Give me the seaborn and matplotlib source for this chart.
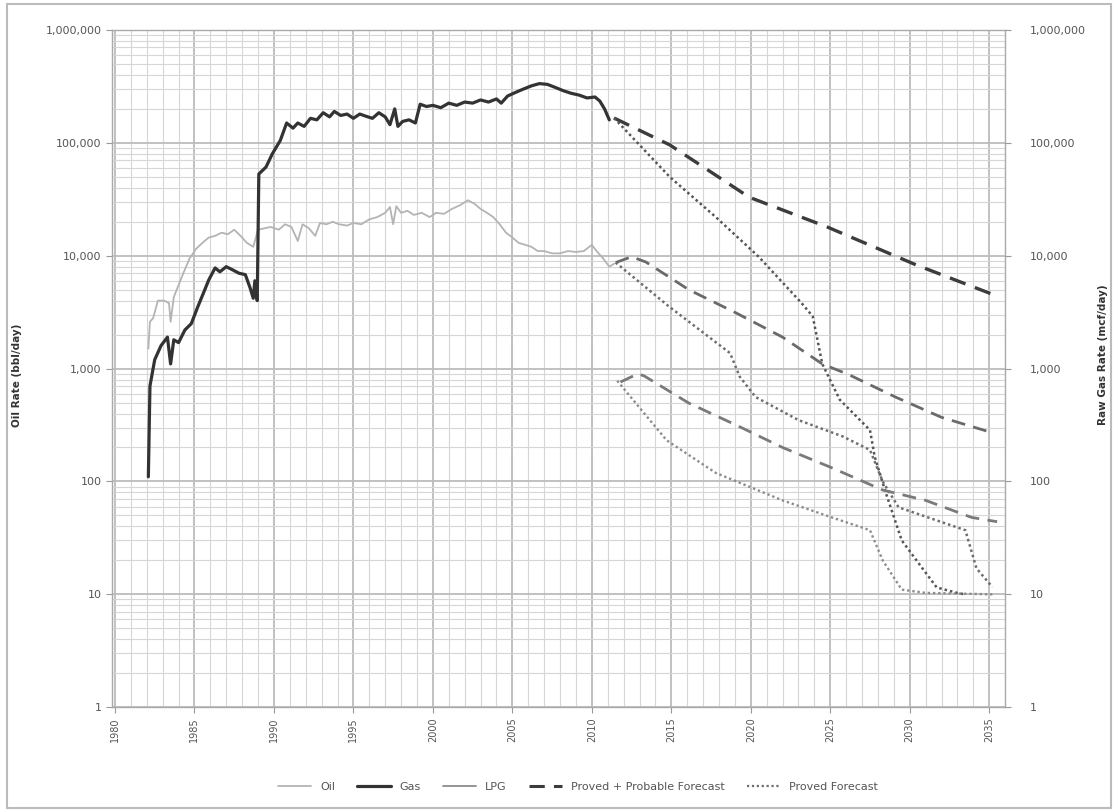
import numpy as np
import pandas as pd
import seaborn as sns
from matplotlib import pyplot as plt
from matplotlib.lines import Line2D
from matplotlib.patches import Rectangle
from matplotlib.ticker import FixedLocator, FuncFormatter, LogLocator, NullFormatter

# historical production
gas_years = [1982.1, 1982.2, 1982.5, 1982.9, 1983.3, 1983.5, 1983.7, 1984.0, 1984.4, 1984.8,
             1985.2, 1985.6, 1985.9, 1986.3, 1986.6, 1987.0, 1987.4, 1987.8, 1988.2, 1988.5,
             1988.7, 1988.8, 1988.95, 1989.05, 1989.5, 1989.9, 1990.4, 1990.8, 1991.2, 1991.5,
             1991.9, 1992.3, 1992.7, 1993.1, 1993.5, 1993.8, 1994.2, 1994.6, 1995.0, 1995.4,
             1995.8, 1996.2, 1996.6, 1997.0, 1997.3, 1997.6, 1997.8, 1998.1, 1998.5, 1998.9,
             1999.2, 1999.6, 2000.0, 2000.5, 2001.0, 2001.5, 2002.0, 2002.5, 2003.0, 2003.5,
             2004.0, 2004.3, 2004.7, 2005.2, 2005.7, 2006.2, 2006.7, 2007.2, 2007.7, 2008.2,
             2008.7, 2009.2, 2009.7, 2010.2, 2010.5, 2010.8, 2011.1]
gas_rate = [110, 700, 1200, 1600, 1900, 1100, 1800, 1700, 2200, 2500,
            3500, 4800, 6100, 7800, 7200, 8000, 7500, 7000, 6800, 5200,
            4200, 6000, 4000, 53000, 61000, 80000, 105000, 150000, 135000, 150000,
            140000, 165000, 160000, 185000, 170000, 190000, 175000, 180000, 165000, 180000,
            172000, 165000, 185000, 170000, 145000, 200000, 140000, 155000, 160000, 150000,
            220000, 210000, 215000, 205000, 225000, 215000, 230000, 225000, 240000, 230000,
            245000, 225000, 260000, 280000, 300000, 320000, 335000, 330000, 310000, 290000,
            275000, 265000, 250000, 255000, 235000, 200000, 160000]

oil_years = [1982.1, 1982.2, 1982.4, 1982.7, 1983.1, 1983.4, 1983.5, 1983.7, 1984.0, 1984.3,
             1984.7, 1985.1, 1985.5, 1985.9, 1986.3, 1986.7, 1987.1, 1987.5, 1987.9, 1988.3,
             1988.7, 1989.0, 1989.4, 1989.8, 1990.3, 1990.7, 1991.1, 1991.5, 1991.8, 1992.2,
             1992.6, 1992.9, 1993.3, 1993.7, 1994.1, 1994.6, 1995.0, 1995.5, 1996.0, 1996.5,
             1997.0, 1997.3, 1997.5, 1997.7, 1998.0, 1998.4, 1998.8, 1999.3, 1999.8, 2000.2,
             2000.7, 2001.2, 2001.7, 2002.2, 2002.6, 2003.0, 2003.4, 2003.8, 2004.2, 2004.6,
             2005.0, 2005.4, 2005.8, 2006.2, 2006.6, 2007.0, 2007.5, 2008.0, 2008.5, 2009.0,
             2009.5, 2010.0, 2010.3, 2010.7, 2011.1, 2011.4]
oil_rate = [1500, 2600, 2800, 4000, 4000, 3800, 2600, 4300, 5500, 7000,
            9500, 11500, 13000, 14500, 15000, 16000, 15500, 17000, 15000, 13000,
            12000, 17000, 17500, 18000, 17000, 19000, 18000, 13500, 19000, 17500,
            15000, 19500, 19000, 20000, 19000, 18500, 19500, 19000, 21000, 22000,
            24000, 27000, 19000, 27500, 24000, 25000, 23000, 24000, 22000, 24000,
            23500, 26000, 28000, 31000, 29000, 26000, 24000, 22000, 19000, 16000,
            14500, 13000, 12500, 12000, 11000, 11000, 10500, 10500, 11000, 10800,
            11000, 12500, 11000, 9500, 8000, 8500]

# forecasts
gas_pp_years = [2011.4, 2014.9, 2019.9, 2024.8, 2030.4, 2035.3]
gas_pp_rate = [166000, 96000, 33000, 18000, 8300, 4500]
gas_p_years = [2011.4, 2014.9, 2017.8, 2020.5, 2023.2, 2023.9, 2024.5, 2025.6, 2027.5,
               2027.8, 2028.5, 2029.5, 2030.8, 2031.7, 2033.1, 2033.5]
gas_p_rate = [166000, 50000, 22000, 9800, 3800, 2900, 1100, 530, 285,
              165, 79, 30, 17, 11.5, 10.2, 10]

oil_pp_years = [2011.5, 2012.5, 2013.4, 2016.1, 2019.1, 2022.0, 2024.5, 2026.2, 2029.1, 2032.0, 2035.2]
oil_pp_rate = [8700, 9800, 8800, 5000, 3100, 1900, 1100, 880, 560, 370, 270]
oil_p_years = [2011.5, 2014.8, 2018.7, 2019.3, 2020.3, 2023.0, 2025.8, 2027.5, 2028.3, 2029.3,
               2033.5, 2034.2, 2035.2]
oil_p_rate = [8700, 3600, 1370, 850, 560, 350, 250, 190, 100, 59, 37, 17, 11.6]

lpg_pp_years = [2011.8, 2012.9, 2013.3, 2016.1, 2019.1, 2022.0, 2025.0, 2028.3, 2031.0, 2033.9, 2035.5]
lpg_pp_rate = [760, 900, 860, 495, 315, 200, 134, 84, 68, 48, 44]
lpg_p_years = [2011.6, 2014.7, 2017.8, 2022.0, 2025.1, 2027.5, 2028.3, 2029.5, 2031.0, 2035.2]
lpg_p_rate = [780, 232, 119, 68, 48, 37, 20, 11, 10.3, 10]

year_ticks = [1980, 1985, 1990, 1995, 2000, 2005, 2010, 2015, 2020, 2025, 2030, 2035]
legend_labels = ["Oil", "Gas", "LPG", "Proved + Probable Forecast", "Proved Forecast"]

sns.set_style("white")
plt.rcParams['font.family'] = ['DejaVu Sans']

fig = plt.figure(figsize=(11.18, 8.11), dpi=100)
ax = fig.add_axes([0.100, 0.128, 0.799, 0.835])

DOT = (0, (1, 1.2))
DASH = (0, (5, 3))

series = [
    (oil_years, oil_rate, "#b4b4b4", 1.3, "-"),
    (gas_years, gas_rate, "#333333", 2.3, "-"),
    (gas_pp_years, gas_pp_rate, "#3c3c3c", 2.4, DASH),
    (gas_p_years, gas_p_rate, "#555555", 1.8, DOT),
    (oil_pp_years, oil_pp_rate, "#6a6a6a", 2.0, DASH),
    (oil_p_years, oil_p_rate, "#6e6e6e", 1.8, DOT),
    (lpg_pp_years, lpg_pp_rate, "#7a7a7a", 2.0, DASH),
    (lpg_p_years, lpg_p_rate, "#8c8c8c", 1.7, DOT),
]
for xs, ys, color, lw, ls in series:
    sns.lineplot(x=xs, y=ys, ax=ax, color=color, linewidth=lw, linestyle=ls,
                 sort=False, estimator=None, zorder=3)

ax.set_yscale("log")
ax.set_ylim(1, 1e6)
ax.set_xlim(1979.8, 2036.0)

# grid like an old spreadsheet chart
ax.xaxis.set_major_locator(FixedLocator(year_ticks))
ax.xaxis.set_minor_locator(FixedLocator(np.arange(1980, 2037, 1)))
ax.yaxis.set_major_locator(LogLocator(base=10, numticks=10))
ax.yaxis.set_minor_locator(LogLocator(base=10, subs=np.arange(2, 10), numticks=20))
ax.yaxis.set_minor_formatter(NullFormatter())
fmt = FuncFormatter(lambda v, p: f"{int(round(v)):,}")
ax.yaxis.set_major_formatter(fmt)
ax.grid(which="major", axis="both", color="#bcbcbc", linewidth=1.3, zorder=0)
ax.grid(which="minor", axis="both", color="#d6d6d6", linewidth=0.8, zorder=0)
ax.set_axisbelow(True)

ax.tick_params(axis="x", which="major", labelsize=7, rotation=90, length=4,
               color="#999999", labelcolor="#555555", direction="out", bottom=True)
ax.tick_params(axis="x", which="minor", length=0)
ax.tick_params(axis="y", which="major", labelsize=8, length=4, color="#999999",
               labelcolor="#555555", left=True)
ax.tick_params(axis="y", which="minor", length=0)
for s in ax.spines.values():
    s.set_color("#aaaaaa")
    s.set_linewidth(1.0)

ax2 = ax.twinx()
ax2.set_yscale("log")
ax2.set_ylim(ax.get_ylim())
ax2.yaxis.set_major_locator(LogLocator(base=10, numticks=10))
ax2.yaxis.set_minor_formatter(NullFormatter())
ax2.yaxis.set_major_formatter(fmt)
ax2.tick_params(axis="y", which="major", labelsize=8, length=4, color="#999999",
                labelcolor="#555555", pad=14)
ax2.tick_params(axis="y", which="minor", length=0)
for s in ax2.spines.values():
    s.set_visible(False)

ax.set_xlabel("")
ax.set_ylabel("Oil Rate (bbl/day)", fontsize=7.5, fontweight="bold", color="#333333")
ax.yaxis.set_label_coords(-0.101, 0.49)
ax2.set_ylabel("Raw Gas Rate (mcf/day)", fontsize=7.5, fontweight="bold", color="#333333",
               rotation=90)
ax2.yaxis.set_label_coords(1.104, 0.52)

handles = [
    Line2D([], [], color="#b4b4b4", lw=1.3),
    Line2D([], [], color="#333333", lw=2.3),
    Line2D([], [], color="#8c8c8c", lw=1.3),
    Line2D([], [], color="#3c3c3c", lw=2.2, linestyle=DASH),
    Line2D([], [], color="#6e6e6e", lw=1.6, linestyle=DOT),
]
fig.legend(handles, legend_labels, loc="center", bbox_to_anchor=(0.517, 0.030), ncol=5,
           frameon=False, fontsize=8, handlelength=3.0, columnspacing=2.0,
           labelcolor="#555555")

fig.patches.append(Rectangle((0.006, 0.004), 0.988, 0.991, transform=fig.transFigure,
                             fill=False, edgecolor="#bbbbbb", linewidth=1.5))

fig.savefig("out.png", dpi=100, facecolor="white")
